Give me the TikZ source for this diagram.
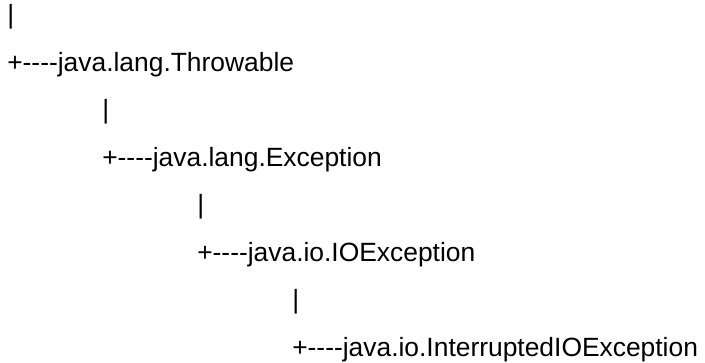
\documentclass[tikz,border=0pt]{standalone}
\usepackage{fontspec}
\setmainfont{Liberation Sans}[Ligatures=TeXOff]
\usetikzlibrary{positioning}

\begin{document}
\begin{tikzpicture}[
  x=0.75pt, y=-0.75pt,
  every node/.style={font=\fontsize{19.8}{24}\selectfont, inner sep=0pt, anchor=base west},
  bar/.style={},
  cls/.style={}
]
\useasboundingbox (0,0) rectangle (705,362);

%% Throwable level
\node[bar] (tbar) at (7,23.5) {|};
\node[cls] (thr) at (7,71.5) {+----java.lang.Throwable};

%% Exception level
\node[bar] (ebar) at (102,118.5) {|};
\node[cls] (exc) at (102,166.5) {+----java.lang.Exception};

%% IOException level
\node[bar] (ibar) at (197,213.5) {|};
\node[cls] (ioe) at (197,261.5) {+----java.io.IOException};

%% InterruptedIOException level
\node[bar] (rbar) at (292,308.5) {|};
\node[cls] (iie) at (292,356.5) {+----java.io.InterruptedIOException};
\end{tikzpicture}
\end{document}
